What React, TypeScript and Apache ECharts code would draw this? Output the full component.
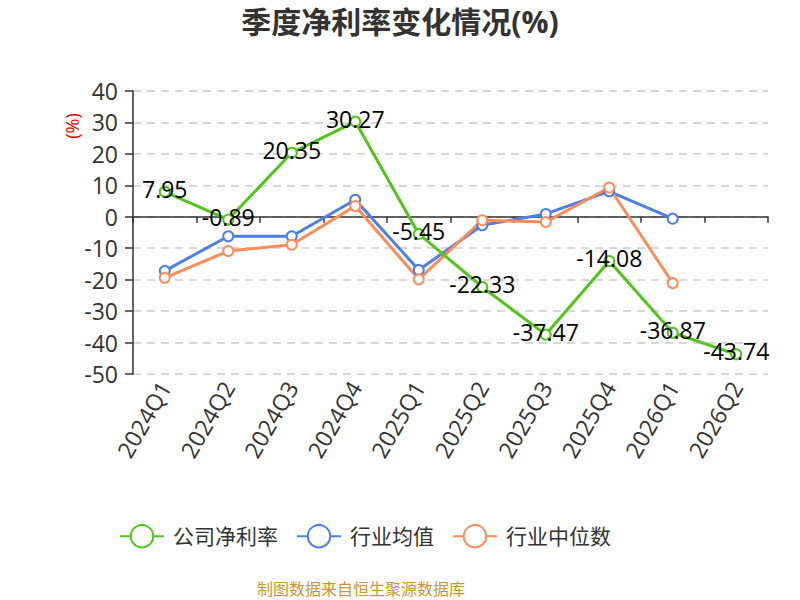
import React, { useEffect, useRef } from "react";
import * as echarts from "echarts";

const categories = ["2024Q1", "2024Q2", "2024Q3", "2024Q4", "2025Q1", "2025Q2", "2025Q3", "2025Q4", "2026Q1", "2026Q2"];
const companyNetMargin = [7.95, -0.89, 20.35, 30.27, -5.45, -22.33, -37.47, -14.08, -36.87, -43.74];
const industryAverage = [-17.2, -6.2, -6.2, 5.4, -16.9, -2.7, 0.9, 8.1, -0.6, null];
const industryMedian = [-19.4, -10.9, -8.9, 3.4, -19.9, -1.1, -1.7, 9.3, -21.1, null];
const seriesNames = ["公司净利率", "行业均值", "行业中位数"];
const colors = ["#52c41a", "#4f7fe5", "#fd8c5b"];

const FONT = "'Open Sans', 'Noto Sans CJK SC', sans-serif";

export default function App() {
  const ref = useRef<HTMLDivElement>(null);
  useEffect(() => {
    document.body.style.margin = "0";
    if (!ref.current) return;
    const chart = echarts.init(ref.current, null, { renderer: "svg" });
    const mkSeries = (name: string, data: (number | null)[], color: string, withLabel: boolean) => ({
      name,
      type: "line",
      data,
      xAxisIndex: 0,
      symbol: "emptyCircle",
      symbolSize: 10,
      connectNulls: false,
      lineStyle: { color, width: 3 },
      itemStyle: { color, borderWidth: 2 },
      label: withLabel
        ? {
            show: true,
            position: "inside",
            offset: [0, -3],
            fontSize: 23,
            color: "#000",
            fontFamily: FONT,
          }
        : { show: false },
      z: withLabel ? 3 : 2,
    });
    chart.setOption({
      animation: false,
      backgroundColor: "#fff",
      title: {
        text: "季度净利率变化情况(%)",
        left: "center",
        top: 1,
        textStyle: { fontSize: 30, fontWeight: "bold", color: "#333", fontFamily: FONT },
      },
      legend: {
        left: 114,
        top: 519,
        itemWidth: 44,
        itemHeight: 28,
        itemGap: 18,
        data: seriesNames,
        textStyle: { fontSize: 21, color: "#333", fontFamily: FONT, padding: [0, 0, 0, 4] },
      },
      grid: { left: 133, right: 32, top: 91, bottom: 226, containLabel: false },
      xAxis: [
        {
          type: "category",
          data: categories,
          position: "bottom",
          boundaryGap: true,
          axisLine: { show: true, onZero: true, lineStyle: { color: "#333", width: 1.5 } },
          axisTick: { show: true, length: 6, lineStyle: { color: "#333", width: 1.5 } },
          axisLabel: { show: false },
          splitLine: { show: false },
        },
        {
          type: "category",
          data: categories,
          position: "bottom",
          boundaryGap: true,
          axisLine: { show: false, onZero: false },
          axisTick: { show: false },
          axisLabel: { show: true, rotate: 60, fontSize: 23, color: "#333", margin: 9, fontFamily: FONT },
          splitLine: { show: false },
        },
      ],
      yAxis: {
        type: "value",
        min: -50,
        max: 40,
        interval: 10,
        axisLine: { show: true, lineStyle: { color: "#333", width: 1.5 } },
        axisTick: { show: true, length: 8, lineStyle: { color: "#333", width: 1.5 } },
        axisLabel: { fontSize: 23, color: "#333", fontFamily: FONT, margin: 15 },
        splitLine: { show: true, lineStyle: { color: "#ccc", type: [8, 6], width: 1.5 } },
      },
      graphic: [
        {
          type: "text",
          x: 72,
          y: 126,
          rotation: Math.PI / 2,
          style: { text: "(%)", fill: "#ff0000", fontSize: 18, fontFamily: FONT, align: "center", verticalAlign: "middle" },
        },
        {
          type: "text",
          x: 361,
          y: 589,
          style: { text: "制图数据来自恒生聚源数据库", fill: "#c8982e", fontSize: 16, fontFamily: FONT, align: "center", verticalAlign: "middle" },
        },
      ],
      series: [
        mkSeries(seriesNames[0], companyNetMargin, colors[0], true),
        mkSeries(seriesNames[1], industryAverage, colors[1], false),
        mkSeries(seriesNames[2], industryMedian, colors[2], false),
      ],
    });
    return () => chart.dispose();
  }, []);
  return <div ref={ref} style={{ width: 800, height: 600 }} />;
}
